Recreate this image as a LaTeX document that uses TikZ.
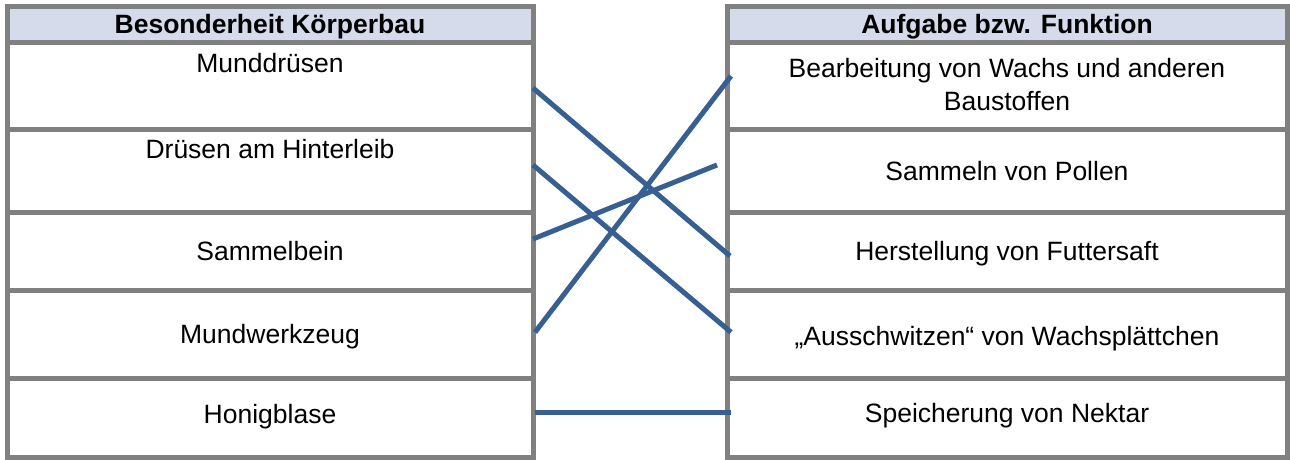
\documentclass[tikz,border=0pt]{standalone}
\usepackage{fontspec}
\setmainfont{Liberation Sans}
\usetikzlibrary{calc}
\definecolor{gridgrey}{RGB}{128,128,128}
\definecolor{headfill}{RGB}{214,219,236}
\definecolor{linkblue}{RGB}{54,95,146}
\begin{document}
\begin{tikzpicture}[x=1pt,y=-1pt,
  cell/.style={draw=gridgrey,line width=5pt,rectangle,inner sep=0pt,outer sep=0pt},
  lcell/.style={cell,minimum width=526pt},
  rcell/.style={cell,minimum width=560.5pt},
  head/.style={fill=headfill},
  txt/.style={inner sep=0pt,anchor=base,font=\fontsize{26.5}{33}\selectfont},
  htxt/.style={txt,font=\fontsize{26.5}{33}\selectfont\bfseries},
  link/.style={draw=linkblue,line width=5pt}]
\useasboundingbox (0,0) rectangle (1290,459);
% left table
\node[lcell,head,minimum height=36.5pt] (LH) at (270,24.25) {};
\node[lcell,minimum height=87pt] (L1) at (270,86) {};
\node[lcell,minimum height=83pt] (L2) at (270,171) {};
\node[lcell,minimum height=78pt] (L3) at (270,251.5) {};
\node[lcell,minimum height=87.5pt] (L4) at (270,334.25) {};
\node[lcell,minimum height=79.5pt] (L5) at (270,417.75) {};
% right table
\node[rcell,head,minimum height=36.5pt] (RH) at (1007.25,24.25) {};
\node[rcell,minimum height=87pt] (R1) at (1007.25,86) {};
\node[rcell,minimum height=83pt] (R2) at (1007.25,171) {};
\node[rcell,minimum height=78pt] (R3) at (1007.25,251.5) {};
\node[rcell,minimum height=87.5pt] (R4) at (1007.25,334.25) {};
\node[rcell,minimum height=79.5pt] (R5) at (1007.25,417.75) {};
% texts left
\node[htxt] (tLH) at (270,33) {Besonderheit Körperbau};
\node[txt] (tL1) at (270,72) {Munddrüsen};
\node[txt] (tL2) at (270,158) {Drüsen am Hinterleib};
\node[txt] (tL3) at (270,260) {Sammelbein};
\node[txt] (tL4) at (270,343) {Mundwerkzeug};
\node[txt] (tL5) at (270,423) {Honigblase};
% texts right
\node[htxt] (tRH) at (1007,33) {Aufgabe bzw. Funktion};
\node[txt,align=center,anchor=north] (tR1) at (1007,58) {Bearbeitung von Wachs und anderen\\Baustoffen};
\node[txt] (tR2) at (1007,180) {Sammeln von Pollen};
\node[txt] (tR3) at (1007,260) {Herstellung von Futtersaft};
\node[txt] (tR4) at (1007,345) {„Ausschwitzen“ von Wachsplättchen};
\node[txt] (tR5) at (1007,422) {Speicherung von Nektar};
% connectors
\draw[link] ($(L1.east)+(0,2)$) -- ($(R3.west)+(3,4.5)$);
\draw[link] ($(L2.east)+(0,-6)$) -- ($(R4.west)+(4,-2)$);
\draw[link] ($(L3.east)+(0,-12.5)$) -- ($(R2.west)+(-10,-6)$);
\draw[link] ($(L4.east)+(2,-2)$) -- ($(R1.west)+(4,-10)$);
\draw[link] ($(L5.east)+(2,-5.5)$) -- ($(R5.west)+(4,-5.5)$);
\end{tikzpicture}
\end{document}
